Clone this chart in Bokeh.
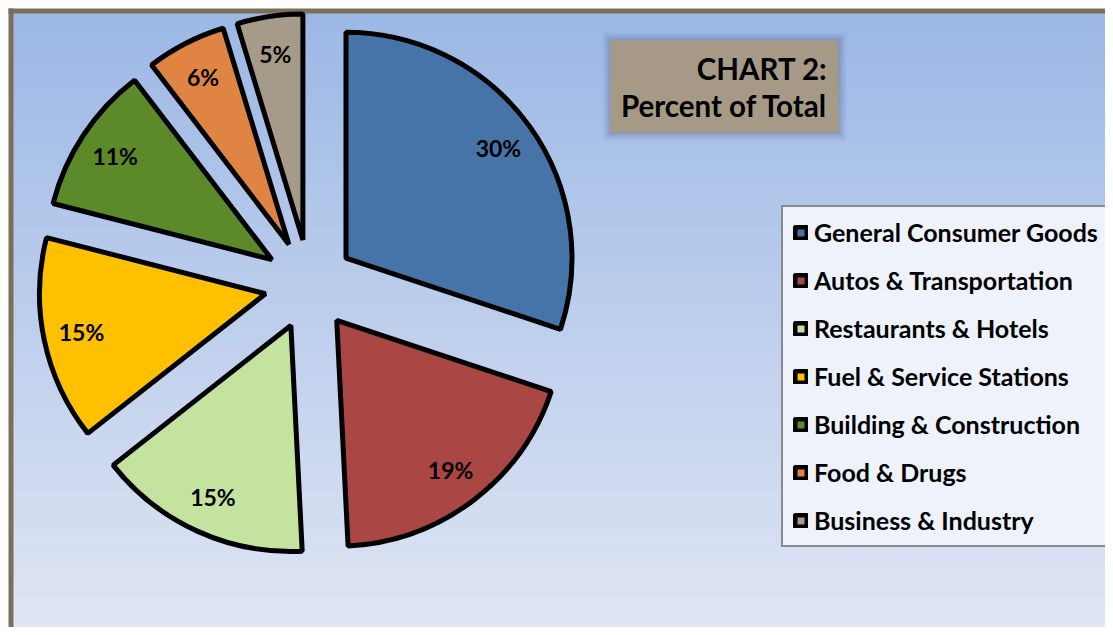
import numpy as np
from bokeh.plotting import figure
from bokeh.models import Range1d, Legend, LegendItem, ColumnDataSource
from bokeh.core.properties import value
from bokeh.embed import file_html
from bokeh.resources import INLINE

# ---- data ----
categories = ["General Consumer Goods", "Autos & Transportation", "Restaurants & Hotels",
              "Fuel & Service Stations", "Building & Construction", "Food & Drugs",
              "Business & Industry"]
shares = [30.1, 19.1, 15.2, 14.6, 10.6, 5.7, 4.7]
colors = ["#4674a9", "#aa4644", "#c4e39e", "#ffc000", "#5c8a28", "#df8442", "#a69a88"]
title_lines = ["CHART 2:", "Percent of Total"]

W, H = 1105, 627
FONT = "Lato"

def px(x):
    return x

def py(y):
    return H - y

p = figure(width=W, height=H, output_backend="svg", toolbar_location=None,
           x_range=Range1d(0, W), y_range=Range1d(0, H), min_border=0,
           background_fill_color="white", border_fill_color="white")
p.axis.visible = False
p.grid.visible = False
p.outline_line_color = None

# ---- background gradient ----
n = 120
top_c = np.array([156, 184, 229])
bot_c = np.array([224, 230, 244])
edges = np.linspace(13, 640, n + 1)
strip_cols = []
for i in range(n):
    t = i / (n - 1)
    c = (top_c + (bot_c - top_c) * t).round().astype(int)
    strip_cols.append("#%02x%02x%02x" % tuple(c))
p.quad(left=px(13), right=W + 10, top=[py(e) for e in edges[:-1]],
       bottom=[py(e) for e in edges[1:]], fill_color=strip_cols,
       line_color=strip_cols, line_width=1)

# frame border (top and left visible)
border_col = "#7b6f5b"
p.quad(left=px(8), right=W + 10, top=py(8), bottom=py(13), fill_color=border_col, line_color=None)
p.quad(left=px(8), right=px(13), top=py(8), bottom=-10, fill_color=border_col, line_color=None)

# ---- pie ----
vals = np.array(shares, dtype=float)
frac = vals / vals.sum()
cum = np.concatenate([[0], np.cumsum(frac)])
start = np.pi / 2 - 2 * np.pi * cum[:-1]
end = np.pi / 2 - 2 * np.pi * cum[1:]
mid = (start + end) / 2
cx, cy = px(309), py(284)
R = 226
explode = 45
xs = cx + explode * np.cos(mid)
ys = cy + explode * np.sin(mid)

src = ColumnDataSource(dict(x=xs, y=ys, start=start, end=end, color=colors, cat=categories))
wr = p.wedge(x="x", y="y", radius=R, start_angle="start", end_angle="end", direction="clock",
             fill_color="color", line_color="black", line_width=5, source=src)

lab_r = 188
lx = xs + lab_r * np.cos(mid)
ly = ys + lab_r * np.sin(mid)
p.text(x=lx, y=ly, text=["%.0f%%" % v for v in shares], text_align="center",
       text_baseline="middle", text_font=value(FONT), text_font_style="bold",
       text_font_size="23px", text_color="black")

# ---- title box ----
for k, a in [(8, 0.06), (6, 0.08), (4, 0.10), (2, 0.14)]:
    p.quad(left=px(610 - k), right=px(838 + k), top=py(40 - k), bottom=py(132 + k),
           fill_color="#4a5a80", fill_alpha=a, line_color=None)
p.quad(left=px(610), right=px(838), top=py(40), bottom=py(132),
       fill_color="#a69a87", line_color=None)
p.text(x=[px(827), px(827)], y=[py(68), py(105)], text=title_lines, text_align="right",
       text_baseline="middle", text_font=value(FONT), text_font_style="bold",
       text_font_size="29.5px", text_color="black")

# ---- legend ----
items = [LegendItem(label=c, renderers=[wr], index=i) for i, c in enumerate(categories)]
legend = Legend(items=items, location=(px(781), H - 547),
                label_text_font=FONT, label_text_font_style="bold",
                label_text_font_size="25px", label_text_color="black",
                glyph_width=15, glyph_height=15, label_standoff=6,
                padding=10, spacing=18, label_height=24, margin=0,
                border_line_color="#222222", border_line_width=2,
                background_fill_color="#eef2fa", background_fill_alpha=1.0)
p.add_layout(legend)

open("out.html", "w").write(file_html(p, INLINE))
